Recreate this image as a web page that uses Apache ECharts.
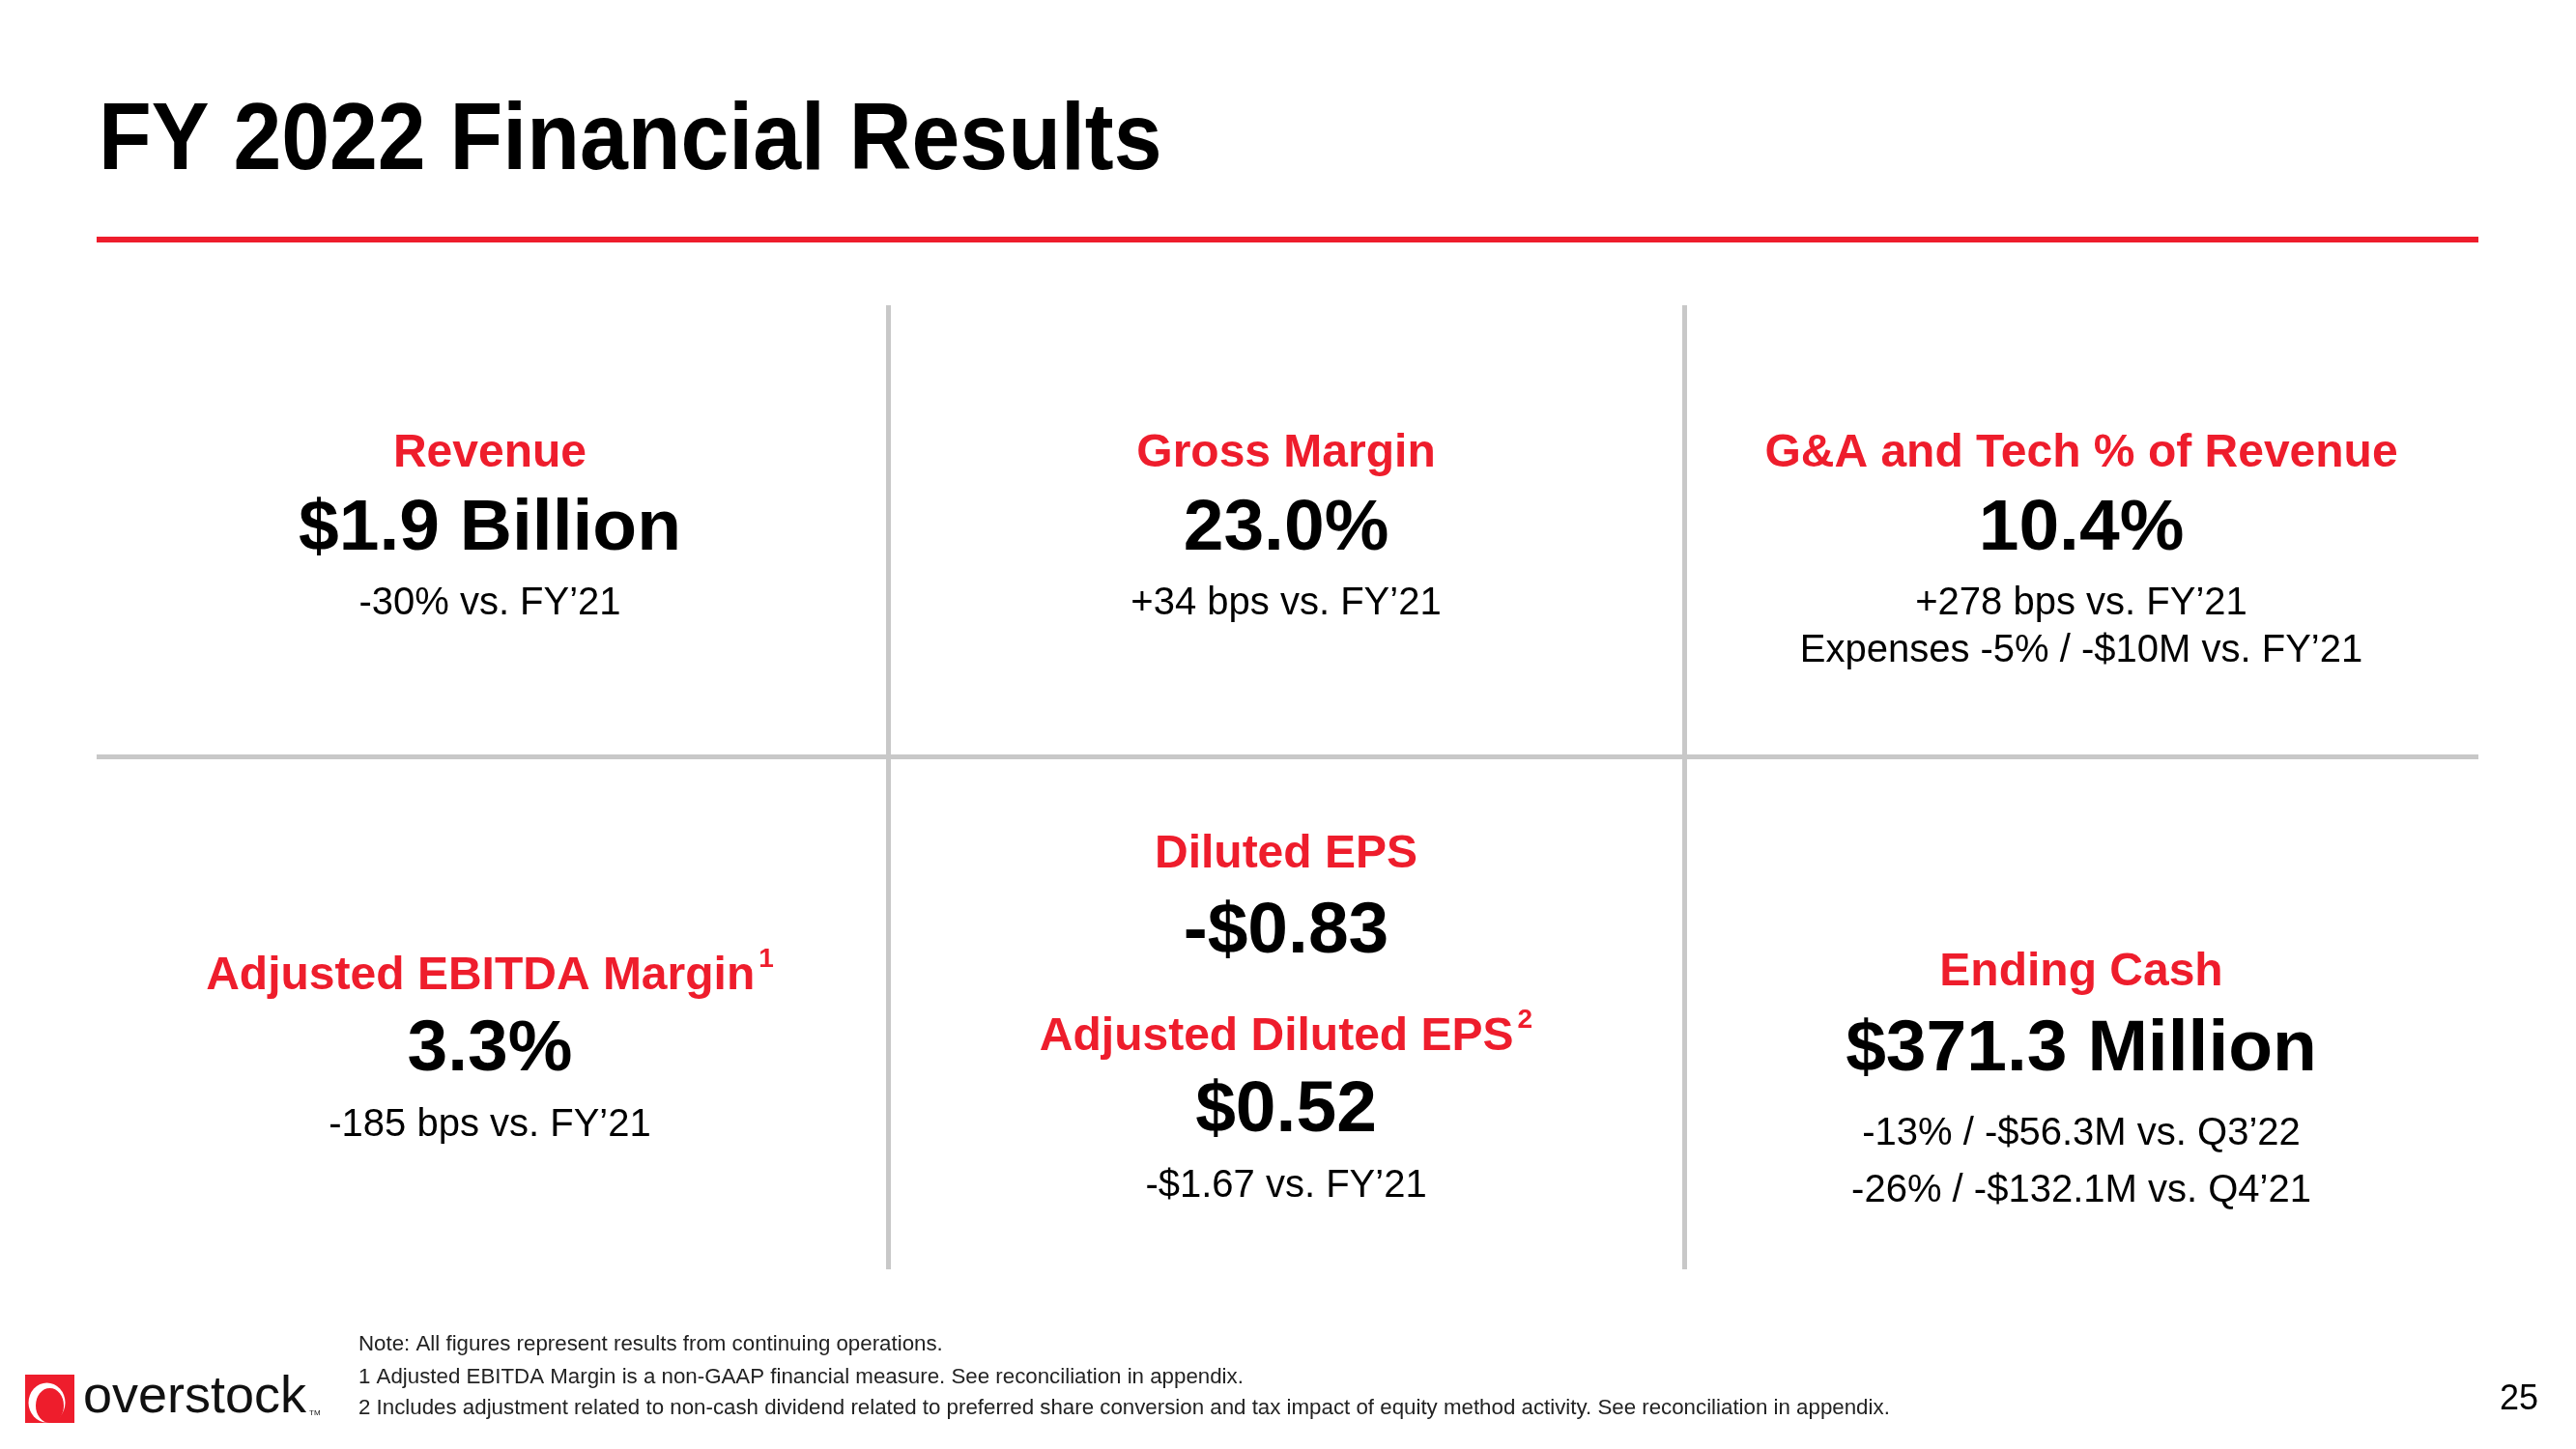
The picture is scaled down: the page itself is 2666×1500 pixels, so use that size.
<!DOCTYPE html>
<html><head><meta charset="utf-8">
<script src="https://cdn.jsdelivr.net/npm/echarts@6/dist/echarts.min.js"></script>
<style>html,body{margin:0;padding:0;background:#fff}#c{width:2666px;height:1500px}</style>
</head><body><div id="c"></div>
<script>
// ---- content ----
const slideTitle = 'FY 2022 Financial Results';
const metricLabels = ['Revenue', 'Gross Margin', 'G&A and Tech % of Revenue', 'Adjusted EBITDA Margin', 'Diluted EPS', 'Ending Cash'];
const metricSups = ['', '', '', '1', '', ''];
const metricValues = ['$1.9 Billion', '23.0%', '10.4%', '3.3%', '-$0.83', '$371.3 Million'];
const metricNotes = [
  ['-30% vs. FY’21'],
  ['+34 bps vs. FY’21'],
  ['+278 bps vs. FY’21', 'Expenses -5% / -$10M vs. FY’21'],
  ['-185 bps vs. FY’21'],
  [],
  ['-13% / -$56.3M vs. Q3’22', '-26% / -$132.1M vs. Q4’21']
];
const extraLabel = 'Adjusted Diluted EPS';
const extraSup = '2';
const extraValue = '$0.52';
const extraNote = '-$1.67 vs. FY’21';
const footnotes = [
  'Note: All figures represent results from continuing operations.',
  '1 Adjusted EBITDA Margin is a non-GAAP financial measure. See reconciliation in appendix.',
  '2 Includes adjustment related to non-cash dividend related to preferred share conversion and tax impact of equity method activity. See reconciliation in appendix.'
];
const pageNumber = '25';
const brandName = 'overstock';

// ---- layout / style ----
const RED = '#EE1D2C';
const GRAY = '#C8C8C8';
const SANS = '"Liberation Sans", Arial, sans-serif';
const colX = [507, 1331, 2154];
const panelLayout = [
  {x: colX[0], label: 470, value: 548, notes: [625]},
  {x: colX[1], label: 470, value: 548, notes: [625]},
  {x: colX[2], label: 470, value: 548, notes: [625, 674]},
  {x: colX[0], label: 1007, value: 1087, notes: [1165]},
  {x: colX[1], label: 885, value: 965, notes: []},
  {x: colX[2], label: 1007, value: 1087, notes: [1174, 1233]}
];

function txt(x, y, text, font, fill, align) {
  return {type: 'text', x: x, y: y, silent: true,
    style: {text: text, font: font, fill: fill, textAlign: align || 'center', textVerticalAlign: 'middle', verticalAlign: 'middle'}};
}
function redLabel(x, y, text, sup) {
  if (!sup) return txt(x, y, text, 'bold 48px ' + SANS, RED);
  return {type: 'text', x: x, y: y, silent: true,
    style: {text: '{t|' + text + '}{s|' + sup + '}', textAlign: 'center', textVerticalAlign: 'middle', verticalAlign: 'middle',
      rich: {
        t: {font: 'bold 48px ' + SANS, fill: RED, lineHeight: 56, verticalAlign: 'bottom'},
        s: {font: 'bold 28px ' + SANS, fill: RED, lineHeight: 56, verticalAlign: 'top', padding: [0, 0, 0, 4]}
      }}};
}

const els = [];
// title (condensed via horizontal scale) + red rule
els.push({type: 'text', x: 102, y: 148, scaleX: 0.905, silent: true,
  style: {text: slideTitle, font: 'bold 99px ' + SANS, fill: '#000', textAlign: 'left', textVerticalAlign: 'middle', verticalAlign: 'middle'}});
els.push({type: 'rect', silent: true, shape: {x: 100, y: 245, width: 2465, height: 6}, style: {fill: RED}});
// grid lines
els.push({type: 'rect', silent: true, shape: {x: 917, y: 316, width: 5, height: 998}, style: {fill: GRAY}});
els.push({type: 'rect', silent: true, shape: {x: 1741, y: 316, width: 5, height: 998}, style: {fill: GRAY}});
els.push({type: 'rect', silent: true, shape: {x: 100, y: 781, width: 2465, height: 5}, style: {fill: GRAY}});

// panels
metricLabels.forEach(function (lab, i) {
  const p = panelLayout[i];
  els.push(redLabel(p.x, p.label, lab, metricSups[i]));
  els.push(txt(p.x, p.value, metricValues[i], 'bold 75px ' + SANS, '#000'));
  metricNotes[i].forEach(function (n, j) {
    els.push(txt(p.x, p.notes[j], n, '40px ' + SANS, '#000'));
  });
});
els.push(redLabel(colX[1], 1070, extraLabel, extraSup));
els.push(txt(colX[1], 1150, extraValue, 'bold 75px ' + SANS, '#000'));
els.push(txt(colX[1], 1228, extraNote, '40px ' + SANS, '#000'));

// footnotes
const fnY = [1392, 1426, 1458];
footnotes.forEach(function (f, i) {
  els.push(txt(371, fnY[i], f, '22.3px ' + SANS, '#222', 'left'));
});
// page number
els.push(txt(2607, 1449, pageNumber, '36px ' + SANS, '#000'));

// logo
els.push({type: 'rect', silent: true, shape: {x: 26, y: 1423, width: 51, height: 50}, style: {fill: RED}});
els.push({type: 'circle', silent: true, x: 48.5, y: 1452, scaleX: 19, scaleY: 20.5, shape: {cx: 0, cy: 0, r: 1}, style: {fill: '#fff'}});
els.push({type: 'circle', silent: true, x: 51.5, y: 1455, scaleX: 14.5, scaleY: 18, shape: {cx: 0, cy: 0, r: 1}, style: {fill: RED}});
els.push(txt(86, 1447, brandName, '54px ' + SANS, '#111', 'left'));
els.push(txt(320, 1463, 'TM', '8px ' + SANS, '#111', 'left'));

const chart = echarts.init(document.getElementById('c'), null, {width: 2666, height: 1500});
chart.setOption({backgroundColor: '#fff', animation: false, graphic: {elements: els}});
</script>
</body></html>
